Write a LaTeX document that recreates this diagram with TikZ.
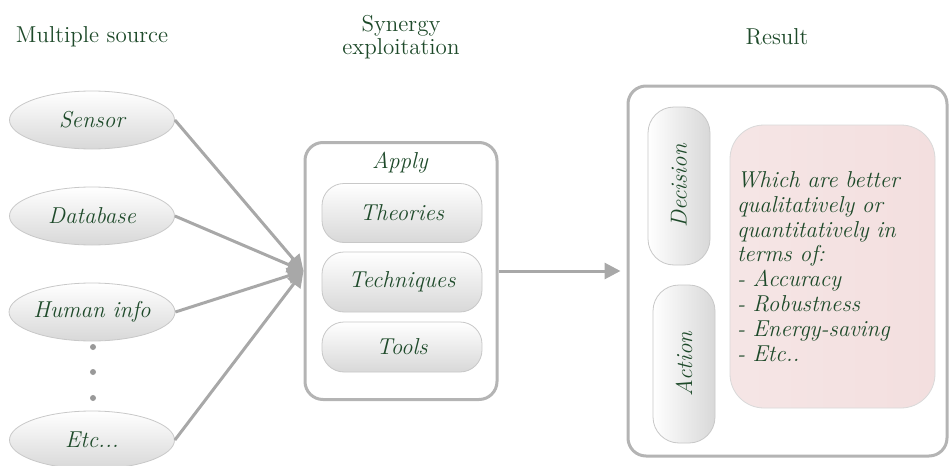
\documentclass[tikz,border=0pt]{standalone}
\usepackage{tikz}
\usetikzlibrary{shapes.geometric,arrows.meta}
\definecolor{txtgreen}{RGB}{30,74,42}
\definecolor{linegray}{RGB}{168,168,168}
\definecolor{boxgray}{RGB}{180,180,180}
\definecolor{thingray}{RGB}{200,200,200}
\definecolor{shadegray}{RGB}{216,216,216}
\definecolor{pinkfill}{RGB}{243,223,223}
\begin{document}
\begin{tikzpicture}[x=0.5pt,y=-0.5pt,
  font=\fontsize{11.5}{13}\selectfont,
  every node/.style={text=txtgreen},
  heading/.style={align=center,font=\fontsize{11.5}{11.5}\selectfont},
  src/.style={ellipse,draw=thingray,line width=0.4pt,top color=white,bottom color=shadegray,
    minimum width=82.5pt,minimum height=29pt,inner sep=0pt,font=\fontsize{11.5}{13}\selectfont\itshape},
  tool/.style={rectangle,rounded corners=11pt,draw=thingray,line width=0.4pt,top color=white,bottom color=shadegray,
    minimum width=80pt,inner sep=0pt,font=\fontsize{11.5}{13}\selectfont\itshape},
  vbox/.style={rectangle,rounded corners=13pt,draw=thingray,line width=0.4pt,top color=white,bottom color=shadegray,shading angle=90,
    minimum width=31pt,minimum height=79pt,inner sep=0pt},
  frame/.style={rectangle,rounded corners=9pt,draw=boxgray,line width=1.5pt,fill=white,inner sep=0pt},
  conn/.style={draw=linegray,line width=1.5pt,-{Triangle[length=8pt,width=8pt]}},
  dotmark/.style={circle,fill=gray!80,inner sep=0pt,minimum size=3pt}
]
\useasboundingbox (0,0) rectangle (949,466);

% headings
\node[heading] (h1) at (92,37) {Multiple source};
\node[heading] (h2) at (401,37) {Synergy\\exploitation};
\node[heading] (h3) at (777,37) {Result};

% sources
\node[src] (sensor) at (92,120) {Sensor};
\node[src] (database) at (92,216) {Database};
\node[src] (human) at (92,312) {Human info};
\node[src] (etc) at (92,440) {Etc...};
\node[dotmark] (d1) at (93,347) {};
\node[dotmark] (d2) at (93,372) {};
\node[dotmark] (d3) at (93,398) {};

% apply box
\node[frame,minimum width=96pt,minimum height=128.5pt] (apply) at (401,271) {};
\node[font=\fontsize{11.5}{13}\selectfont\itshape] (applylbl) at (400,163) {Apply};
\node[tool,minimum height=29.5pt] (theories) at (402,213) {Theories};
\node[tool,minimum height=30pt] (techniques) at (402,282) {Techniques};
\node[tool,minimum height=25pt] (tools) at (402,347) {Tools};

% result box
\node[frame,minimum width=159.5pt,minimum height=185pt] (result) at (787.5,271) {};
\node[vbox] (decision) at (679,186) {};
\node[rotate=90,font=\fontsize{11.5}{13}\selectfont\itshape] (declbl) at (decision.center) {Decision};
\node[vbox] (action) at (684,364) {};
\node[rotate=90,font=\fontsize{11.5}{13}\selectfont\itshape] (actlbl) at (action.center) {Action};
\node[rectangle,rounded corners=17pt,draw=thingray!70,line width=0.4pt,left color=pinkfill!80!white,right color=pinkfill,
  minimum width=102.5pt,minimum height=141.5pt,inner xsep=3.5pt,inner ysep=0pt,text width=95.5pt,align=left,
  font=\fontsize{11.5}{12.4}\selectfont\itshape] (crit) at (832.5,266.5)
  {Which are better\\qualitatively or\\quantitatively in\\terms of:\\- Accuracy\\- Robustness\\- Energy-saving\\- Etc..};

% connectors
\draw[conn] (sensor.east) -- (apply.west);
\draw[conn] (database.east) -- (apply.west);
\draw[conn] (human.east) -- (apply.west);
\draw[conn] (etc.east) -- (apply.west);
\draw[conn,shorten >=3pt] (apply.east) -- (result.west);
\end{tikzpicture}
\end{document}
